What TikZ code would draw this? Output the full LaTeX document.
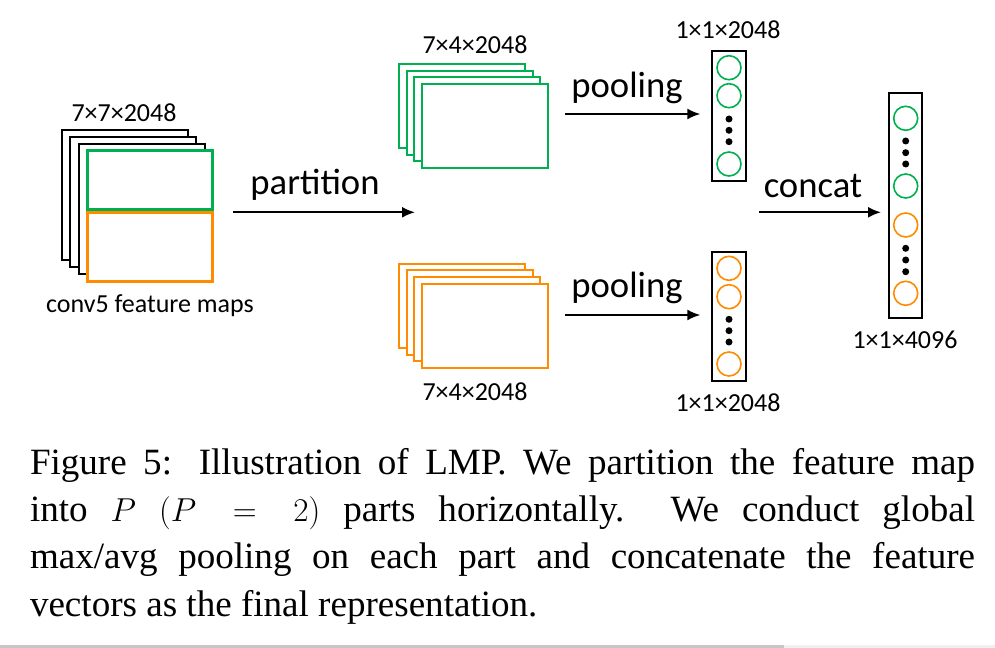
\documentclass[tikz,border=0pt]{standalone}
\usepackage{fontspec}
\setmainfont{Liberation Serif}
\newfontfamily\diagfont{Carlito}
\usetikzlibrary{arrows.meta}
\definecolor{mapgreen}{RGB}{0,176,80}
\definecolor{maporange}{RGB}{255,140,0}
\tikzset{
    every node/.style={inner sep=0pt, outer sep=0pt}
}
\tikzset{
    fmap/.style={rectangle, draw, fill=white, line width=1.5pt,
    	minimum width=94.5pt, minimum height=97.5pt},
    pmap/.style={rectangle, draw, fill=white, line width=1.5pt,
    	minimum width=94.5pt, minimum height=63pt},
    vecbox/.style={rectangle, draw, fill=white, line width=1.5pt,
    	minimum width=25pt},
    unit/.style={circle, draw, line width=1.2pt, minimum size=18pt},
    vdot/.style={circle, fill=black, minimum size=5.25pt},
    small/.style={font=\diagfont\fontsize{19.5}{23}\selectfont},
    big/.style={font=\diagfont\fontsize{27.5}{32}\selectfont},
    flow/.style={line width=1.5pt, -{Latex[length=9.75pt, width=8.25pt]}}
}

\begin{document}
\begin{tikzpicture}[x=0.75pt, y=-0.75pt]
  \useasboundingbox (0,0) rectangle (995,648);

  % conv5 feature maps
  \node (m1) [fmap] at (125, 195) {};
  \node (m2) [fmap] at (133.3, 202) {};
  \node (m3) [fmap] at (141.6, 209) {};
  \node (mo) [fmap, draw=maporange, line width=2.25pt, minimum width=93.5pt,
  	minimum height=51.4pt] at (150, 246.75) {};
  \node (mg) [fmap, draw=mapgreen, line width=2.25pt, minimum width=93.5pt,
  	minimum height=44.25pt] at (150, 180.5) {};
  \node (msize) [small] at (124, 113) {7×7×2048};
  \node (mname) [small] at (150, 306) {conv5 feature maps};

  % green parts
  \node (g1) [pmap, draw=mapgreen] at (462, 105.7) {};
  \node (g2) [pmap, draw=mapgreen] at (469.5, 112.6) {};
  \node (g3) [pmap, draw=mapgreen] at (477, 119.5) {};
  \node (g4) [pmap, draw=mapgreen] at (484.5, 126.4) {};
  \node (gsize) [small] at (475, 45) {7×4×2048};

  % orange parts
  \node (o1) [pmap, draw=maporange] at (462, 305.8) {};
  \node (o2) [pmap, draw=maporange] at (469.5, 312.5) {};
  \node (o3) [pmap, draw=maporange] at (477, 319.2) {};
  \node (o4) [pmap, draw=maporange] at (484.5, 325.8) {};
  \node (osize) [small] at (475, 392) {7×4×2048};

  % pooled vectors
  \node (tvec) [vecbox, minimum height=97.7pt] at (729, 115.9) {};
  \node (tu1) [unit, draw=mapgreen] at (729, 67.7) {};
  \node (tu2) [unit, draw=mapgreen] at (729, 95.7) {};
  \node (td1) [vdot] at (729, 119) {};
  \node (td2) [vdot] at (729, 130.3) {};
  \node (td3) [vdot] at (729, 141.7) {};
  \node (tu3) [unit, draw=mapgreen] at (729, 164) {};
  \node (tsize) [small] at (728, 30) {1×1×2048};

  \node (bvec) [vecbox, minimum height=96.75pt] at (729, 316.2) {};
  \node (bu1) [unit, draw=maporange] at (729, 268.3) {};
  \node (bu2) [unit, draw=maporange] at (729, 296.7) {};
  \node (bd1) [vdot] at (729, 319.3) {};
  \node (bd2) [vdot] at (729, 330.7) {};
  \node (bd3) [vdot] at (729, 342) {};
  \node (bu3) [unit, draw=maporange] at (729, 364) {};
  \node (bsize) [small] at (728, 403) {1×1×2048};

  % concatenated vector
  \node (cvec) [vecbox, minimum height=168.3pt] at (905.7, 205.5) {};
  \node (cu1) [unit, draw=mapgreen] at (905.7, 118.3) {};
  \node (cd1) [vdot] at (905.7, 141) {};
  \node (cd2) [vdot] at (905.7, 152.7) {};
  \node (cd3) [vdot] at (905.7, 164) {};
  \node (cu2) [unit, draw=mapgreen] at (905.7, 186) {};
  \node (cu3) [unit, draw=maporange] at (905.7, 225) {};
  \node (cd4) [vdot] at (905.7, 248.3) {};
  \node (cd5) [vdot] at (905.7, 260) {};
  \node (cd6) [vdot] at (905.7, 271.7) {};
  \node (cu4) [unit, draw=maporange] at (905.7, 293.3) {};
  \node (csize) [small] at (905, 340) {1×1×4096};

  % arrows
  \coordinate (ps) at (233, 212.3);
  \coordinate (pe) at (415, 212.3);
  \coordinate (ts) at (565, 114);
  \coordinate (bs) at (565, 315);
  \coordinate (cs) at (759, 212.3);
  \draw [flow] (ps) -- (pe);
  \draw [flow, shorten >=9pt] (ts) -- (ts -| tvec.west);
  \draw [flow, shorten >=9pt] (bs) -- (bs -| bvec.west);
  \draw [flow, shorten >=6pt] (cs) -- (cs -| cvec.west);
  \node (plbl) [big] at (315, 185) {partition};
  \node (tlbl) [big] at (627, 88) {pooling};
  \node (blbl) [big] at (627, 288) {pooling};
  \node (clbl) [big] at (813, 186) {concat};

  % caption
  \node (cap) [anchor=base west, text width=708.75pt, align=justify,
  	font=\fontsize{27.8}{35.6}\selectfont] at (30, 474)
  	{Figure 5: Illustration of LMP. We partition the feature map\linebreak
  	into $P$ $(P=2)$ parts horizontally.\ \ We conduct global\linebreak
  	max/avg pooling on each part and concatenate the feature\linebreak
  	vectors as the final representation.};

  % bottom bar
  \fill [black!22] (0, 645) rectangle (784, 648);
  \fill [black!6] (784, 645) rectangle (995, 648);
\end{tikzpicture}
\end{document}
